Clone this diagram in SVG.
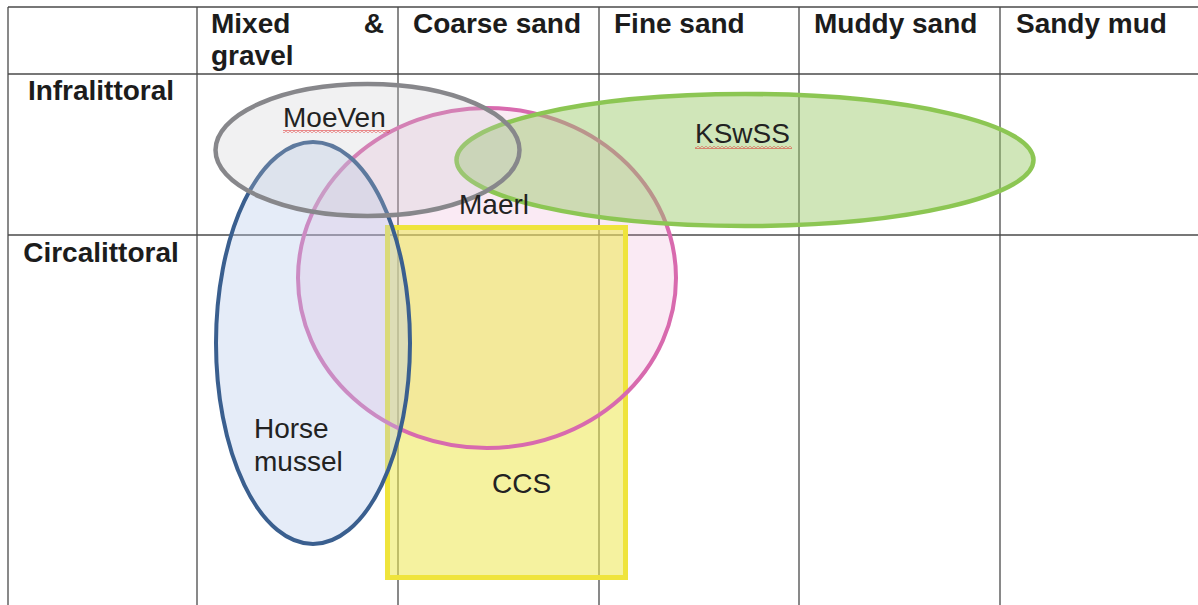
<svg xmlns="http://www.w3.org/2000/svg" xmlns:xlink="http://www.w3.org/1999/xlink" width="1198" height="605" viewBox="0 0 1198 605">
<style>
  .grid line { stroke: #4a4a4a; stroke-width: 1.3; }
  .hdr { font-family: "Liberation Sans", Arial, sans-serif; font-weight: bold; font-size: 28px; fill: #1c1c1c; }
  .lbl { font-family: "Liberation Sans", Arial, sans-serif; font-size: 28px; fill: #222; }
</style>
<defs>
  <pattern id="squiggle" x="0" y="0" width="4" height="3" patternUnits="userSpaceOnUse">
    <path d="M0 0.6 L2 2.4 L4 0.6" fill="none" stroke="#e02020" stroke-width="0.9"/>
  </pattern>
  <ellipse id="maerl-shape" cx="487" cy="278" rx="189" ry="170"/>
</defs>
<rect width="1198" height="605" fill="#ffffff"/>

<g id="table" class="grid">
  <line x1="8" y1="7" x2="1198" y2="7"/>
  <line x1="8" y1="74" x2="1198" y2="74"/>
  <line x1="8" y1="235" x2="1198" y2="235"/>
  <line x1="8" y1="7" x2="8" y2="605"/>
  <line x1="197" y1="7" x2="197" y2="605"/>
  <line x1="398" y1="7" x2="398" y2="605"/>
  <line x1="599" y1="7" x2="599" y2="605"/>
  <line x1="799" y1="7" x2="799" y2="605"/>
  <line x1="1000" y1="7" x2="1000" y2="605"/>
</g>

<g id="headers">
  <text class="hdr" x="211" y="33">Mixed</text>
  <text class="hdr" x="384" y="33" text-anchor="end">&amp;</text>
  <text class="hdr" x="211" y="65">gravel</text>
  <text class="hdr" x="413" y="33">Coarse sand</text>
  <text class="hdr" x="614" y="33">Fine sand</text>
  <text class="hdr" x="814" y="33">Muddy sand</text>
  <text class="hdr" x="1016" y="33">Sandy mud</text>
  <text class="hdr" x="101" y="100" text-anchor="middle">Infralittoral</text>
  <text class="hdr" x="101" y="262" text-anchor="middle">Circalittoral</text>
</g>

<g id="maerl">
  <use xlink:href="#maerl-shape" fill="rgb(230,150,200)" fill-opacity="0.2" stroke="none"/>
</g>

<g id="ccs">
  <rect x="387.5" y="227.5" width="238" height="350" fill="rgb(236,232,80)" fill-opacity="0.55" stroke="#efe43c" stroke-width="5"/>
</g>

<g id="maerl-outline">
  <use xlink:href="#maerl-shape" fill="none" stroke="#d86aae" stroke-width="4"/>
</g>

<g id="horse-mussel">
  <ellipse cx="313" cy="343" rx="97" ry="201" fill="rgb(180,200,235)" fill-opacity="0.35" stroke="#3a5f8f" stroke-width="4"/>
</g>

<g id="kswss">
  <ellipse cx="745" cy="160" rx="288.5" ry="66" fill="rgb(150,200,100)" fill-opacity="0.45" stroke="#8cc653" stroke-width="4.5"/>
</g>

<g id="moeven">
  <ellipse cx="367.5" cy="150" rx="152" ry="66" fill="rgb(200,200,205)" fill-opacity="0.25" stroke="#87878b" stroke-width="4.5"/>
</g>

<g id="labels">
  <text class="lbl" x="283" y="127">MoeVen</text>
  <rect x="283" y="130" width="107" height="3" fill="url(#squiggle)"/>
  <text class="lbl" x="695" y="143">KSwSS</text>
  <rect x="695" y="146" width="97" height="3" fill="url(#squiggle)"/>
  <text class="lbl" x="459" y="214">Maerl</text>
  <text class="lbl" x="254" y="438">Horse</text>
  <text class="lbl" x="254" y="471">mussel</text>
  <text class="lbl" x="492" y="493">CCS</text>
</g>
</svg>
